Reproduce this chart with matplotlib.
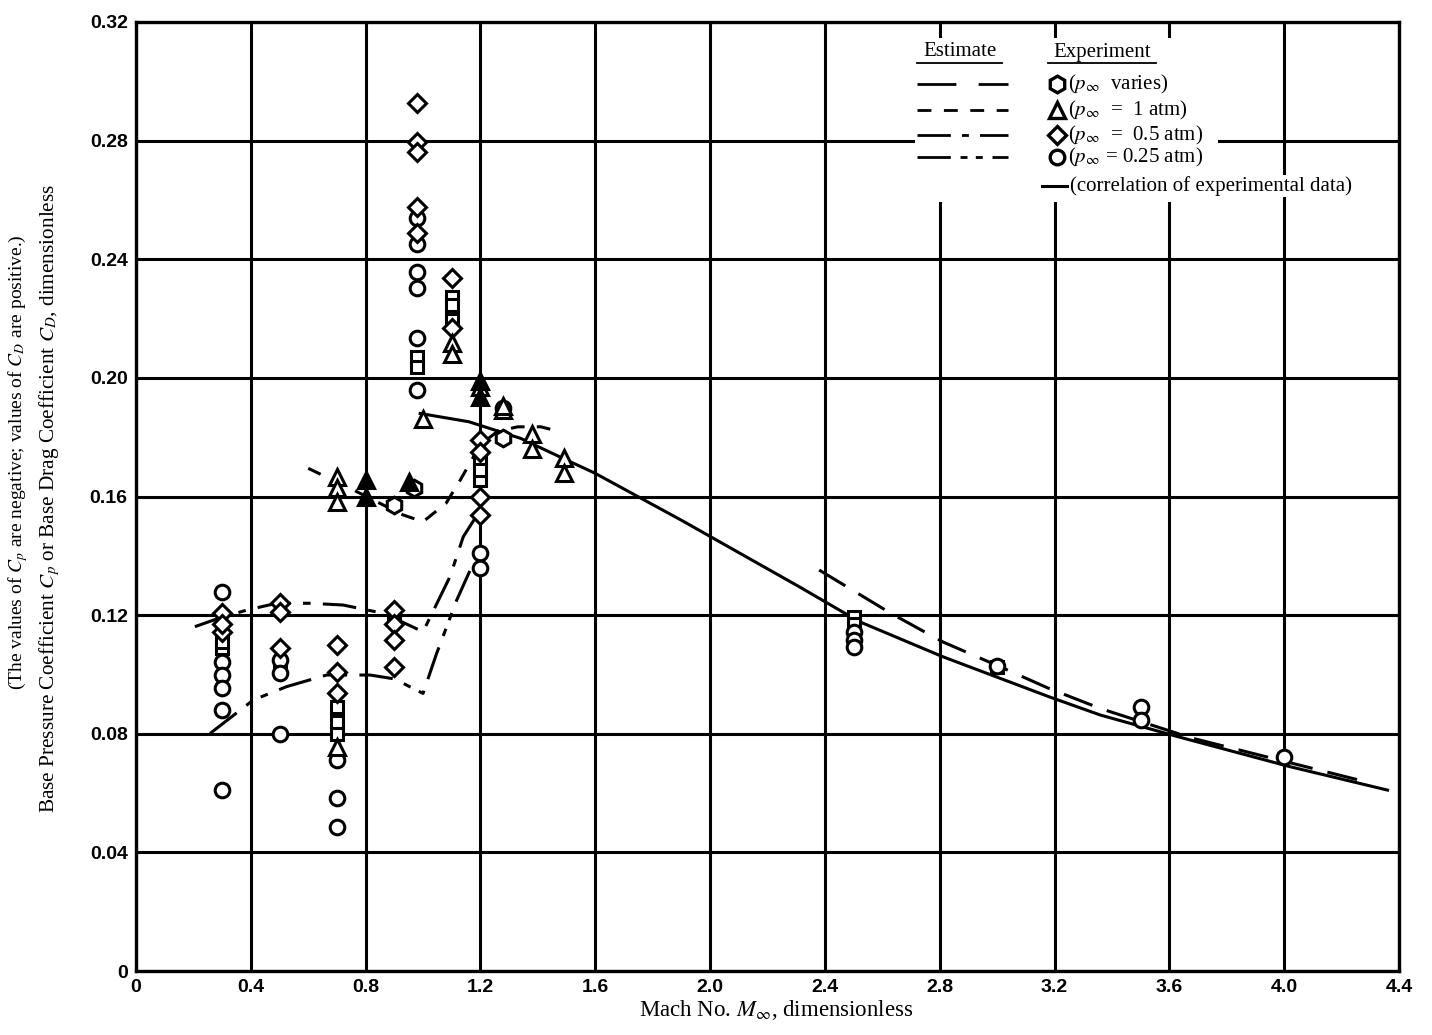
import matplotlib
matplotlib.use("Agg")
import matplotlib.pyplot as plt
from matplotlib.patches import Rectangle
from matplotlib.lines import Line2D

plt.rcParams['mathtext.fontset'] = 'stix'

# Correlation of experimental data (solid)
corr_M = [0.99, 1.16, 1.34, 1.50, 1.60, 1.90, 2.31, 2.52, 2.81, 3.18, 3.36, 3.63, 4.02, 4.36]
corr_C = [0.188, 0.1852, 0.1796, 0.1723, 0.1678, 0.152, 0.1296, 0.1178, 0.106, 0.0925, 0.0863, 0.079, 0.0689, 0.061]

# Estimate curves
est1_M = [2.38, 2.63, 2.81, 3.01, 3.18, 3.36, 3.68, 4.26]
est1_C = [0.1352, 0.1206, 0.111, 0.1026, 0.0953, 0.0885, 0.0785, 0.0644]

est2_M = [0.60, 0.745, 0.93, 1.00, 1.08, 1.13, 1.20, 1.26, 1.33, 1.41, 1.48]
est2_C = [0.1695, 0.1628, 0.1538, 0.1515, 0.1577, 0.1656, 0.1775, 0.182, 0.1835, 0.1835, 0.1818]

est3_M = [0.205, 0.287, 0.386, 0.49, 0.606, 0.722, 0.862, 1.00, 1.094, 1.14, 1.19]
est3_C = [0.1161, 0.1189, 0.1217, 0.124, 0.124, 0.1234, 0.1206, 0.1144, 0.133, 0.1464, 0.154]

est4_M = [0.258, 0.409, 0.525, 0.664, 0.815, 0.90, 1.00, 1.047, 1.117, 1.175]
est4_C = [0.0801, 0.0914, 0.0959, 0.0998, 0.0998, 0.0985, 0.0936, 0.107, 0.125, 0.1375]

# Experiment points
hex_M = [0.90, 0.97, 1.28]
hex_C = [0.157, 0.163, 0.1797]

tri_M = [0.70, 0.70, 0.70, 1.00, 1.10, 1.10, 1.20, 1.38, 1.38, 1.49, 1.49, 0.70, 1.28, 1.28]
tri_C = [0.1666, 0.163, 0.158, 0.186, 0.2117, 0.208, 0.197, 0.181, 0.176, 0.173, 0.168, 0.0755, 0.189, 0.1905]

trif_M = [0.80, 0.80, 0.95, 1.20, 1.20]
trif_C = [0.1655, 0.160, 0.165, 0.1936, 0.199]

dia_M = [0.30, 0.30, 0.30, 0.50, 0.50, 0.50, 0.70, 0.70, 0.70,
         0.90, 0.90, 0.90, 0.90, 0.98, 0.98, 0.98, 0.98, 0.98,
         1.10, 1.10, 1.20, 1.20, 1.20, 1.20]
dia_C = [0.1207, 0.1143, 0.117, 0.124, 0.121, 0.109, 0.110, 0.1008, 0.0937,
         0.1217, 0.117, 0.1116, 0.1025, 0.2927, 0.2795, 0.276, 0.2576, 0.249,
         0.2337, 0.2168, 0.179, 0.175, 0.16, 0.1538]

circ_M = [0.30, 0.30, 0.30, 0.30, 0.30, 0.30, 0.50, 0.50, 0.50,
          0.70, 0.70, 0.70, 0.98, 0.98, 0.98, 0.98, 0.98, 0.98,
          1.20, 1.20, 1.28, 2.50, 2.50, 2.50, 3.00, 3.50, 3.50, 4.00]
circ_C = [0.1278, 0.1042, 0.0998, 0.0954, 0.088, 0.061, 0.105, 0.1005, 0.080,
          0.0711, 0.0583, 0.0486, 0.254, 0.245, 0.2357, 0.2303, 0.2134, 0.196,
          0.141, 0.1359, 0.190, 0.1143, 0.1116, 0.1093, 0.103, 0.089, 0.0846, 0.0722]

sq_M = [0.30, 0.30, 0.50, 0.70, 0.70, 0.70, 0.90, 0.98, 0.98,
        1.10, 1.10, 1.10, 1.20, 1.20, 1.20, 2.50, 2.50, 3.00]
sq_C = [0.1089, 0.111, 0.103, 0.089, 0.084, 0.080, 0.119, 0.207, 0.2037,
        0.2273, 0.2245, 0.2195, 0.172, 0.1655, 0.169, 0.1194, 0.117, 0.1025]

x_ticks = [0, 0.4, 0.8, 1.2, 1.6, 2.0, 2.4, 2.8, 3.2, 3.6, 4.0, 4.4]
x_labels = ["0", "0.4", "0.8", "1.2", "1.6", "2.0", "2.4", "2.8", "3.2", "3.6", "4.0", "4.4"]
y_ticks = [0, 0.04, 0.08, 0.12, 0.16, 0.20, 0.24, 0.28, 0.32]
y_labels = ["0", "0.04", "0.08", "0.12", "0.16", "0.20", "0.24", "0.28", "0.32"]

s1 = (0, (10, 5))
s2 = (0, (4.5, 4))
s3 = (0, (11, 4, 2.5, 4))
s4 = (0, (11, 4, 2.5, 3, 2.5, 4))
lw = 2.2

fig = plt.figure(figsize=(14.32, 10.35), dpi=100)
ax = fig.add_axes([136 / 1432, 1 - 971 / 1035, 1263 / 1432, 949 / 1035])
ax.set_xlim(0, 4.4)
ax.set_ylim(0, 0.32)
ax.set_xticks(x_ticks)
ax.set_xticklabels(x_labels)
ax.set_yticks(y_ticks)
ax.set_yticklabels(y_labels)
ax.tick_params(length=0, pad=6)
for lab in ax.get_xticklabels() + ax.get_yticklabels():
    lab.set_fontfamily("Liberation Sans")
    lab.set_fontweight("bold")
    lab.set_fontsize(14)
ax.set_axisbelow(True)
ax.grid(True, color="black", lw=2.2)
for sp in ax.spines.values():
    sp.set_linewidth(2.4)

# white area behind legend
ax.add_patch(Rectangle(((915 - 136) / 1263, (971 - 202) / 949), (1218 - 915) / 1263, (202 - 38) / 949,
                       transform=ax.transAxes, facecolor="white", edgecolor="none", zorder=1))

ax.plot(corr_M, corr_C, color="black", lw=lw, zorder=3)
ax.plot(est1_M, est1_C, color="black", lw=lw, ls=s1, zorder=3)
ax.plot(est2_M, est2_C, color="black", lw=lw, ls=s2, zorder=3)
ax.plot(est3_M, est3_C, color="black", lw=lw, ls=s3, zorder=3)
ax.plot(est4_M, est4_C, color="black", lw=lw, ls=s4, zorder=3)

mk = dict(ls="none", mec="black", mew=2.2, zorder=4)
ax.plot(sq_M, sq_C, marker="s", ms=8.5, mfc="white", **mk)
ax.plot(circ_M, circ_C, marker="o", ms=10.5, mfc="white", **mk)
ax.plot(dia_M, dia_C, marker="D", ms=9.5, mfc="white", **mk)
ax.plot(hex_M, hex_C, marker="h", ms=12, mfc="white", **mk)
ax.plot(tri_M, tri_C, marker="^", ms=11, mfc="white", **mk)
ax.plot(trif_M, trif_C, marker="^", ms=11, mfc="black", **mk)

# legend, drawn by hand
def px(x, y):
    return (x - 136) / 1263, (971 - y) / 949

tf = dict(transform=ax.transAxes, family="Liberation Serif", fontsize=15, zorder=6)
ax.text(*px(960, 52), "Estimate", ha="center", va="center", **tf)
ax.text(*px(1102, 52), "Experiment", ha="center", va="center", **tf)
ax.add_line(Line2D([px(917, 0)[0], px(1002, 0)[0]], [px(0, 63)[1]] * 2, transform=ax.transAxes, color="black", lw=1.3, zorder=6))
ax.add_line(Line2D([px(1048, 0)[0], px(1156, 0)[0]], [px(0, 63)[1]] * 2, transform=ax.transAxes, color="black", lw=1.3, zorder=6))

rows = [84, 110, 135, 157]
for yy, st in zip(rows, [(0, (14, 8)), (0, (5, 4.5)), (0, (12, 4, 2.5, 4)), (0, (12, 3.5, 2.5, 3, 2.5, 3.5))]):
    ax.add_line(Line2D([px(917, 0)[0], px(1008, 0)[0]], [px(0, yy)[1]] * 2, transform=ax.transAxes,
                       color="black", lw=2.0, ls=st, zorder=6))

leg_mk = [("h", "white"), ("^", "white"), ("D", "white"), ("o", "white")]
leg_txt = [r"($p_\infty$  varies)", r"($p_\infty$  =  1 atm)", r"($p_\infty$  =  0.5 atm)", r"($p_\infty$ = 0.25 atm)"]
leg_ms = [12, 11, 9.5, 10.5]
for yy, (m, fc), t, ms in zip(rows, leg_mk, leg_txt, leg_ms):
    ax.plot([px(1057, 0)[0]], [px(0, yy)[1]], marker=m, ms=ms, mfc=fc, mec="black", mew=2.4,
            transform=ax.transAxes, zorder=6, clip_on=False)
    ax.text(*px(1068, yy), t, ha="left", va="center", **tf)
ax.add_line(Line2D([px(1042, 0)[0], px(1068, 0)[0]], [px(0, 186)[1]] * 2, transform=ax.transAxes,
                   color="black", lw=2.2, zorder=6))
ax.text(*px(1070, 186), "(correlation of experimental data)", ha="left", va="center",
        bbox=dict(facecolor="white", edgecolor="none", pad=1), **tf)

fig.text(776 / 1432, 1 - 1010 / 1035, r"Mach No. $M_\infty$, dimensionless",
         ha="center", va="center", family="Liberation Serif", fontsize=16.5)
fig.text(50 / 1432, 1 - 498 / 1035,
         r"Base Pressure Coefficient $C_p$ or Base Drag Coefficient $C_D$, dimensionless",
         rotation=90, ha="center", va="center", family="Liberation Serif", fontsize=15.3)
fig.text(18 / 1432, 1 - 462 / 1035,
         r"(The values of $C_p$ are negative; values of $C_D$ are positive.)",
         rotation=90, ha="center", va="center", family="Liberation Serif", fontsize=14)

fig.savefig("out.png", dpi=100, facecolor="white")
